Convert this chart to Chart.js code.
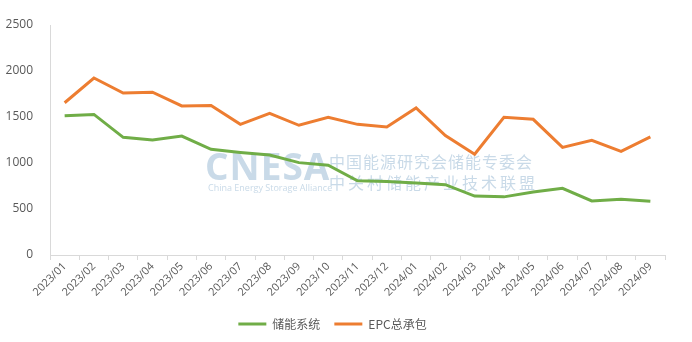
<!DOCTYPE html>
<html>
<head>
<meta charset="utf-8">
<script src="https://cdn.jsdelivr.net/npm/chart.js@4"></script>
<style>
  html,body{margin:0;padding:0;background:#fff;}
  #wrap{width:692px;height:342px;}
</style>
</head>
<body>
<div id="wrap"><canvas id="c" width="692" height="342"></canvas></div>
<script>
/* ---------- data ---------- */
const months=['2023/01','2023/02','2023/03','2023/04','2023/05','2023/06','2023/07','2023/08','2023/09','2023/10','2023/11','2023/12',
              '2024/01','2024/02','2024/03','2024/04','2024/05','2024/06','2024/07','2024/08','2024/09'];
const storageSys=[1514,1528,1279,1250,1293,1149,1115,1087,1004,975,806,799,783,764,641,632,685,725,587,606,583];
const epcTotal  =[1655,1924,1760,1770,1620,1625,1420,1540,1410,1496,1420,1392,1598,1298,1095,1496,1475,1170,1246,1127,1283];
const seriesNames=['储能系统','EPC总承包'];

const axisGray='#d9d9d9', txt='#595959';

/* watermark drawn under the lines */
const watermark={
  id:'watermark',
  beforeDatasetsDraw(chart){
    const c=chart.ctx;
    c.save();
    c.fillStyle='#c9dae8';
    c.textBaseline='alphabetic';
    c.font='bold 37px "Open Sans", Arial, sans-serif';
    c.letterSpacing='1px';
    c.fillText('CNESA',205,180);
    c.letterSpacing='0px';
    c.font='9px "Open Sans", Arial, sans-serif';
    c.fillText('China Energy Storage Alliance',208,191);
    c.font='16px "Noto Sans CJK SC", sans-serif';
    c.letterSpacing='1px';
    c.fillText('中国能源研究会储能专委会',329,168);
    c.letterSpacing='3px';
    c.fillText('中关村储能产业技术联盟',329,189);
    c.restore();
  }
};

new Chart(document.getElementById('c'),{
  type:'line',
  data:{labels:months,datasets:[
    {label:seriesNames[0],data:storageSys,borderColor:'#70ad47',backgroundColor:'#70ad47',borderWidth:3,pointRadius:0,tension:0},
    {label:seriesNames[1],data:epcTotal,borderColor:'#ed7d31',backgroundColor:'#ed7d31',borderWidth:3,pointRadius:0,tension:0}
  ]},
  options:{
    responsive:false,animation:false,
    layout:{padding:{top:25,right:27,left:0,bottom:2}},
    plugins:{
      legend:{position:'bottom',
        labels:{usePointStyle:true,pointStyle:'line',pointStyleWidth:28,boxHeight:3,padding:14,color:txt,
          font:{family:'"Noto Sans CJK SC", sans-serif',size:12}}},
      tooltip:{enabled:false}
    },
    scales:{
      x:{
        offset:true,
        grid:{offset:true,drawOnChartArea:false,drawTicks:true,tickLength:5,color:axisGray},
        border:{display:true,color:axisGray},
        ticks:{color:txt,maxRotation:45,minRotation:45,autoSkip:false,padding:0,
          font:{family:'"Open Sans", sans-serif',size:11}},
        afterFit(s){s.height=49;}
      },
      y:{
        min:0,max:2500,
        grid:{display:false},
        border:{display:true,color:axisGray},
        ticks:{stepSize:500,color:txt,padding:9,font:{family:'"Open Sans", sans-serif',size:12},
          callback:v=>String(v)},
        afterFit(s){s.width=50;}
      }
    }
  },
  plugins:[watermark]
});
</script>
</body>
</html>
